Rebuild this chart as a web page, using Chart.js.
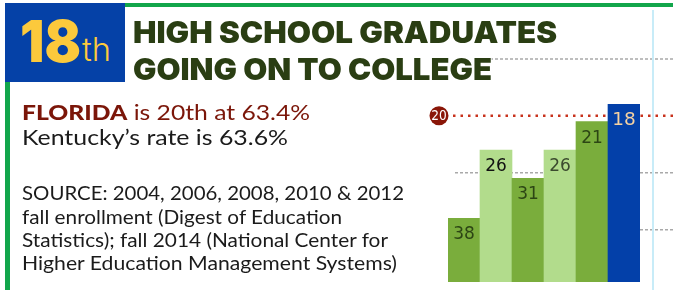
<!DOCTYPE html>
<html>
<head>
<meta charset="utf-8">
<script src="https://cdn.jsdelivr.net/npm/chart.js"></script>
<style>
  body { margin: 0; background: #fff; }
  #wrap { position: relative; width: 673px; height: 290px; overflow: hidden; background: #fff; }
  #c { position: absolute; left: 0; top: 0; }
  .box { position: absolute; }
  .t { position: absolute; white-space: nowrap; transform-origin: 0 0; line-height: 1; }
  .title { font-family: Inter, sans-serif; font-weight: 900; font-size: 30px; color: #2a3e13; left: 133px; background: #fff; }
  .lato { font-family: Lato, sans-serif; left: 22px; }
</style>
</head>
<body>
<div id="wrap">
  <canvas id="c" width="673" height="290"></canvas>

  <div class="box" style="left:5px;top:3px;width:120px;height:79px;background:#0541a7"></div>
  <div class="box" style="left:125px;top:3px;width:548px;height:4px;background:#12a64b"></div>
  <div class="box" style="left:5px;top:82px;width:5px;height:208px;background:#12a64b"></div>
  <div class="box" style="left:652px;top:10px;width:2px;height:280px;background:#c8ecf8"></div>

  <div class="t" data-w="61" style="left:20px;top:11.5px;font-family:Inter,sans-serif;font-weight:900;font-size:58px;color:#fcc93c">18</div>
  <div class="t" data-w="29" style="left:82px;top:34px;font-family:Inter,sans-serif;font-weight:300;font-size:32px;color:#fcc93c">th</div>

  <div class="t title" data-w="424" style="top:16.5px">HIGH SCHOOL GRADUATES</div>
  <div class="t title" data-w="359" style="top:54px">GOING ON TO COLLEGE</div>

  <div class="t lato" data-w="288" style="top:100.7px;font-size:21px;color:#7b1609"><b style="font-weight:900">FLORIDA</b> is 20th at 63.4%</div>
  <div class="t lato" data-w="266" style="top:126.4px;font-size:21px;color:#1b1b1b">Kentucky’s rate is 63.6%</div>

  <div class="t lato" data-w="382" style="top:184.3px;font-size:18.5px;color:#1b1b1b">SOURCE: 2004, 2006, 2008, 2010 &amp; 2012</div>
  <div class="t lato" data-w="320" style="top:207.5px;font-size:18.5px;color:#1b1b1b">fall enrollment (Digest of Education</div>
  <div class="t lato" data-w="366" style="top:230.7px;font-size:18.5px;color:#1b1b1b">Statistics); fall 2014 (National Center for</div>
  <div class="t lato" data-w="375" style="top:253.9px;font-size:18.5px;color:#1b1b1b">Higher Education Management Systems)</div>
</div>

<script>
const years = ['2004', '2006', '2008', '2010', '2012', '2014'];
const ranks = [38, 26, 31, 26, 21, 18];
const barColors = ['#7aad3c', '#b2dc8c', '#7aad3c', '#b2dc8c', '#7aad3c', '#0340a9'];
const labelColors = ['#2c4514', '#111111', '#2c4514', '#3b4a2e', '#2c4514', '#f6d2a2'];
const labelSizes = [17, 17, 17, 17, 17, 18.5];
const floridaRank = 20;
const gridRanks = [10, 30, 40];
const rankFloor = 49.2;

// dotted guide lines + florida marker, drawn behind the bars
const guides = {
  id: 'guides',
  beforeDatasetsDraw(chart) {
    const ctx = chart.ctx;
    const y = chart.scales.y;
    ctx.save();
    ctx.strokeStyle = '#a9a9a9';
    ctx.lineWidth = 1.5;
    ctx.setLineDash([3, 2]);
    gridRanks.forEach(r => {
      const py = y.getPixelForValue(r);
      ctx.beginPath();
      ctx.moveTo(455, py);
      ctx.lineTo(chart.width, py);
      ctx.stroke();
    });

    const fy = y.getPixelForValue(floridaRank);
    ctx.strokeStyle = '#c8321d';
    ctx.lineWidth = 2.5;
    ctx.setLineDash([2.5, 5]);
    ctx.beginPath();
    ctx.moveTo(453, fy);
    ctx.lineTo(chart.width, fy);
    ctx.stroke();

    ctx.setLineDash([]);
    ctx.fillStyle = '#8a1608';
    ctx.beginPath();
    ctx.arc(439, fy, 9.5, 0, Math.PI * 2);
    ctx.fill();
    ctx.fillStyle = '#fff';
    ctx.font = '13.5px "DejaVu Sans Condensed", sans-serif';
    ctx.textAlign = 'center';
    ctx.textBaseline = 'middle';
    ctx.fillText(String(floridaRank), 439, fy + 0.5);
    ctx.restore();
  }
};

const barLabels = {
  id: 'barLabels',
  afterDatasetsDraw(chart) {
    const ctx = chart.ctx;
    ctx.save();
    ctx.textAlign = 'center';
    ctx.textBaseline = 'alphabetic';
    chart.getDatasetMeta(0).data.forEach((bar, i) => {
      ctx.font = labelSizes[i] + 'px "DejaVu Sans", sans-serif';
      ctx.fillStyle = labelColors[i];
      ctx.fillText(String(ranks[i]), bar.x, bar.y + 21);
    });
    ctx.restore();
  }
};

const config = {
  type: 'bar',
  data: {
    labels: years,
    datasets: [{
      data: ranks,
      base: rankFloor,
      backgroundColor: barColors,
      borderWidth: 0,
      categoryPercentage: 1,
      barPercentage: 1
    }]
  },
  options: {
    responsive: false,
    animation: false,
    layout: { padding: { left: 448, right: 33, top: 2, bottom: 8 } },
    plugins: { legend: { display: false }, tooltip: { enabled: false } },
    scales: {
      x: { display: false },
      y: { display: false, reverse: true, min: 0, max: rankFloor }
    }
  },
  plugins: [guides, barLabels]
};

new Chart(document.getElementById('c'), config);

// squeeze / stretch text runs to the widths in the picture
function fitText() {
  document.querySelectorAll('[data-w]').forEach(el => {
    el.style.transform = 'none';
    const w = el.getBoundingClientRect().width;
    const target = parseFloat(el.dataset.w);
    if (w > 0) el.style.transform = 'scaleX(' + (target / w) + ')';
  });
}
fitText();
if (document.fonts) document.fonts.ready.then(fitText);
</script>
</body>
</html>
